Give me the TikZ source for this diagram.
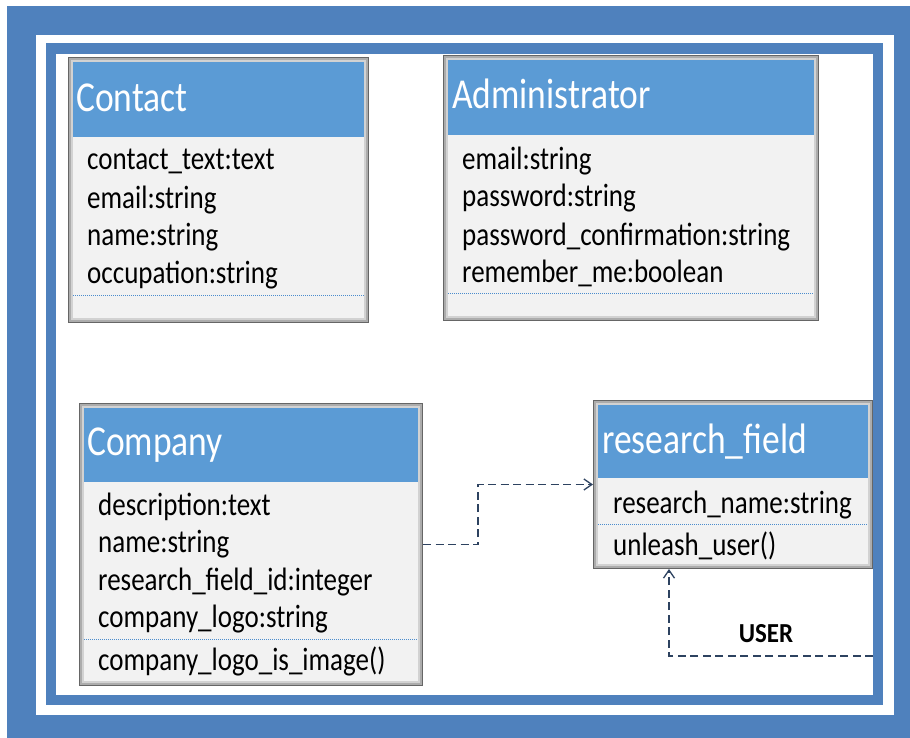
\documentclass[tikz,border=0pt]{standalone}
\usepackage{fontspec}
\setmainfont{Carlito}
\usepackage{graphicx}
\usetikzlibrary{arrows.meta}
\definecolor{frameblue}{RGB}{79,129,189}
\definecolor{hdrblue}{RGB}{91,155,213}
\definecolor{bodyg}{RGB}{242,242,242}
\definecolor{connc}{RGB}{45,66,96}
\definecolor{dotc}{RGB}{75,140,205}
\newcommand\tallt[1]{\scalebox{1}[1.2]{#1}}
\newcommand\boxedge[1]{%
  \draw[gray!35,line width=5pt] ([shift={(2.5,2.5)}]#1.north west) rectangle ([shift={(-2.5,-2.5)}]#1.south east);
  \draw[gray!65,line width=3pt] ([shift={(1.5,1.5)}]#1.north west) rectangle ([shift={(-1.5,-1.5)}]#1.south east);
  \draw[black!60,line width=1pt] ([shift={(0.5,0.5)}]#1.north west) rectangle ([shift={(-0.5,-0.5)}]#1.south east);}
\begin{document}
\begin{tikzpicture}[x=1pt,y=-1pt,
  boxbody/.style={draw=none,fill=bodyg,inner sep=0pt,outer sep=0pt,anchor=north west},
  hdr/.style={fill=hdrblue,inner sep=0pt,outer sep=0pt,anchor=north west},
  ttl/.style={anchor=base west,inner sep=0pt,text=white,font=\fontsize{35.5}{40}\selectfont},
  attr/.style={anchor=base west,inner sep=0pt,font=\fontsize{27}{30}\selectfont},
  sepline/.style={draw=dotc,line width=1pt,dash pattern=on 1pt off 1pt},
  conn/.style={draw=connc,line width=1.5pt,dash pattern=on 8pt off 4.5pt},
  opentip/.style={-{Straight Barb[length=8pt,width=11pt,line width=1.3pt]}},
  lbl/.style={anchor=base,inner sep=0pt,font=\bfseries\fontsize{25}{28}\selectfont}
]
\useasboundingbox (0,0) rectangle (910,738);
% frame
\fill[frameblue] (7,6) rectangle (910,738);
\fill[white] (36,35) rectangle (894,715);
\fill[frameblue] (46,43) rectangle (883,705);
\fill[white] (56,54) rectangle (873,695);

% Contact
\node[boxbody,minimum width=301pt,minimum height=266pt] (contact) at (68,57) {};
\node[hdr,minimum width=301pt,minimum height=80pt] (contactH) at (contact.north west) {};
\node[ttl] (contactT) at (76,112) {\tallt{Contact}};
\node[attr] (contactA1) at (87,170) {\tallt{contact\_text:text}};
\node[attr] (contactA2) at (87,208) {\tallt{email:string}};
\node[attr] (contactA3) at (87,245) {\tallt{name:string}};
\node[attr] (contactA4) at (87,283) {\tallt{occupation:string}};
\draw[sepline] (73,295) -- (365,295);
\boxedge{contact}

% Administrator
\node[boxbody,minimum width=376pt,minimum height=266pt] (admin) at (443,55) {};
\node[hdr,minimum width=376pt,minimum height=80pt] (adminH) at (admin.north west) {};
\node[ttl] (adminT) at (452,109) {\tallt{Administrator}};
\node[attr] (adminA1) at (462,170) {\tallt{email:string}};
\node[attr] (adminA2) at (462,207) {\tallt{password:string}};
\node[attr] (adminA3) at (462,245) {\tallt{password\_confirmation:string}};
\node[attr] (adminA4) at (462,282) {\tallt{remember\_me:boolean}};
\draw[sepline] (448,293) -- (815,293);
\boxedge{admin}

% Company
\node[boxbody,minimum width=344pt,minimum height=283pt] (company) at (79,403) {};
\node[hdr,minimum width=344pt,minimum height=79pt] (companyH) at (company.north west) {};
\node[ttl] (companyT) at (87,455) {\tallt{Company}};
\node[attr] (companyA1) at (98,515) {\tallt{description:text}};
\node[attr] (companyA2) at (98,552) {\tallt{name:string}};
\node[attr] (companyA3) at (98,590) {\tallt{research\_field\_id:integer}};
\node[attr] (companyA4) at (98,627) {\tallt{company\_logo:string}};
\draw[sepline] (84,639) -- (418,639);
\node[attr] (companyM1) at (98,670) {\tallt{company\_logo\_is\_image()}};
\boxedge{company}

% research_field
\node[boxbody,minimum width=280pt,minimum height=169pt] (research) at (593,400) {};
\node[hdr,minimum width=280pt,minimum height=78pt] (researchH) at (research.north west) {};
\node[ttl] (researchT) at (602,453) {\tallt{research\_field}};
\node[attr] (researchA1) at (613,513) {\tallt{research\_name:string}};
\draw[sepline] (598,524) -- (868,524);
\node[attr] (researchM1) at (613,555) {\tallt{unleash\_user()}};
\boxedge{research}

% connectors
\draw[conn,opentip] (company.east) -- ++(55,0) |- (research.west);
\coordinate (userEnd) at (873,656);
\draw[conn,opentip] (userEnd) -| ([xshift=76pt]research.south west);
\node[lbl] (userL) at (766,642) {\scalebox{1}[1.1]{USER}};
\end{tikzpicture}
\end{document}
